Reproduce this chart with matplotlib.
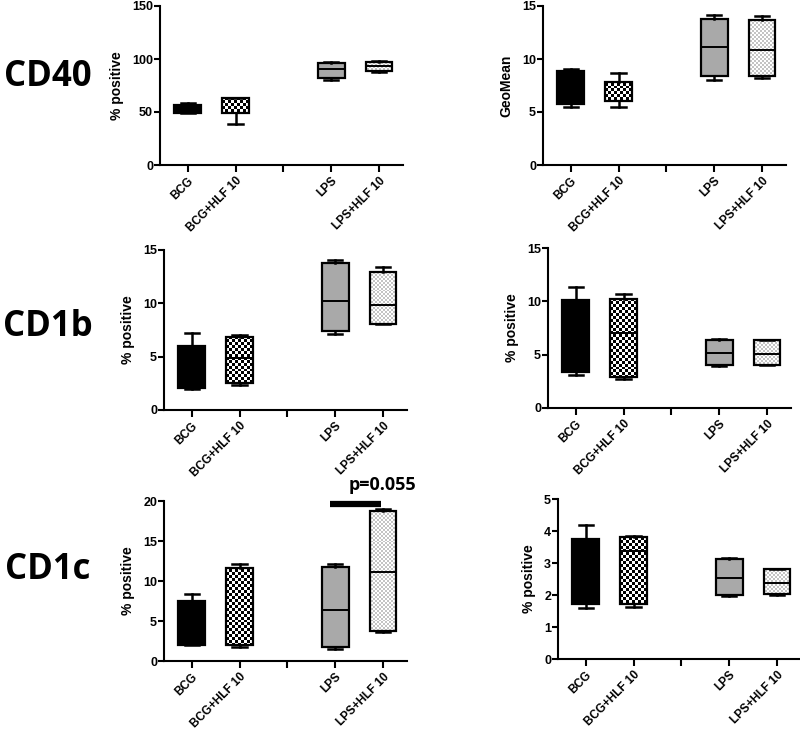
import numpy as np
import matplotlib
matplotlib.use('Agg')
import matplotlib.pyplot as plt
from matplotlib.colors import ListedColormap

plt.rcParams['font.family'] = ['Liberation Sans', 'DejaVu Sans']
plt.rcParams['font.weight'] = 'bold'

groups = ['BCG', 'BCG+HLF 10', '', 'LPS', 'LPS+HLF 10']
positions = [0, 1, 3, 4]

# box stats per group: [whisker low, q1, median, q3, whisker high]
cd40_pct = [[49, 49.5, 53, 57, 58.5],
            [39, 49, 63, 63, 63.5],
            [80, 82, 91, 96, 97],
            [88, 88.5, 93, 97.5, 98]]
cd40_geo = [[5.5, 5.8, 7.3, 8.9, 9.05],
            [5.5, 6.0, 6.0, 7.83, 8.65],
            [8.0, 8.4, 11.1, 13.8, 14.15],
            [8.2, 8.4, 10.85, 13.7, 14.05]]
cd1b_left = [[1.94, 2.03, 3.5, 6.0, 7.25],
             [2.34, 2.56, 4.84, 6.87, 7.06],
             [7.1, 7.37, 10.2, 13.75, 14.1],
             [8.06, 8.1, 9.84, 12.97, 13.4]]
cd1b_right = [[3.14, 3.36, 6.5, 10.1, 11.3],
              [2.76, 2.92, 7.0, 10.26, 10.67],
              [3.98, 4.02, 5.2, 6.34, 6.46],
              [4.0, 4.0, 5.08, 6.37, 6.4]]
cd1c_left = [[1.96, 1.96, 4.0, 7.52, 8.39],
             [1.75, 1.96, 11.57, 11.57, 12.07],
             [1.54, 1.75, 6.35, 11.77, 12.07],
             [3.67, 3.76, 11.15, 18.79, 18.96]]
cd1c_right = [[1.58, 1.715, 2.6, 3.755, 4.19],
              [1.63, 1.715, 3.39, 3.8, 3.83],
              [1.97, 1.99, 2.52, 3.13, 3.15],
              [2.0, 2.03, 2.39, 2.8, 2.81]]

row_labels = ['CD40', 'CD1b', 'CD1c']
p_text = 'p=0.055'
p_bar_y = 19.6

W, H = 800, 730
fig = plt.figure(figsize=(8, 7.3), dpi=100)

# (left px, top px, width px, height px, data, ymax, yticks, ylabel)
panels = [
    (160, 6, 243, 159, cd40_pct, 150, [0, 50, 100, 150], '% positive'),
    (543, 6, 243, 159, cd40_geo, 15, [0, 5, 10, 15], 'GeoMean'),
    (164, 250, 243, 160, cd1b_left, 15, [0, 5, 10, 15], '% positive'),
    (548, 248, 243, 160, cd1b_right, 15, [0, 5, 10, 15], '% positive'),
    (164, 501, 243, 160, cd1c_left, 20, [0, 5, 10, 15, 20], '% positive'),
    (558, 499, 243, 160, cd1c_right, 5, [0, 1, 2, 3, 4, 5], '% positive'),
]


def checker(ax, patch, cell, c1, c2, xlim, ylim):
    bb = ax.get_window_extent()
    nx = int(bb.width / cell) + 1
    ny = int(bb.height / cell) + 1
    arr = (np.add.outer(np.arange(ny), np.arange(nx)) % 2)
    im = ax.imshow(arr, extent=(xlim[0], xlim[1], ylim[0], ylim[1]),
                   origin='lower', cmap=ListedColormap([c1, c2]),
                   interpolation='nearest', aspect='auto', zorder=1.5)
    im.set_clip_path(patch)


for (l, t, w, h, data, ymax, yt, ylab) in panels:
    ax = fig.add_axes([l / W, 1 - (t + h) / H, w / W, h / H])
    xlim = (-0.58, 4.5)
    ylim = (0, ymax)
    stats = []
    for d in data:
        stats.append(dict(whislo=d[0], q1=d[1], med=d[2], q3=d[3], whishi=d[4], fliers=[]))
    bp = ax.bxp(stats, positions=positions, widths=0.56, capwidths=0.3,
                patch_artist=True, showfliers=False,
                boxprops=dict(linewidth=1.6, edgecolor='black'),
                whiskerprops=dict(linewidth=1.8, color='black'),
                capprops=dict(linewidth=1.8, color='black'),
                medianprops=dict(linewidth=1.4, color='black'))
    fills = ['black', 'none', '#a9a9a9', 'none']
    for b, f in zip(bp['boxes'], fills):
        b.set_facecolor(f)
        b.set_zorder(2)
    for ln in bp['medians']:
        ln.set_zorder(2.5)
    checker(ax, bp['boxes'][1], 3, 'black', 'white', xlim, ylim)
    checker(ax, bp['boxes'][3], 2, '#c4c4c4', 'white', xlim, ylim)
    ax.set_xlim(xlim)
    ax.set_ylim(ylim)
    ax.set_xticks(range(5))
    ax.set_xticklabels(groups, rotation=45, ha='right', rotation_mode='anchor',
                       fontsize=8.5, fontweight='bold')
    ax.set_yticks(yt)
    ax.set_yticklabels([str(v) for v in yt], fontsize=9, fontweight='bold')
    ax.set_ylabel(ylab, fontsize=10, fontweight='bold', labelpad=6)
    for s in ['top', 'right']:
        ax.spines[s].set_visible(False)
    for s in ['left', 'bottom']:
        ax.spines[s].set_linewidth(1.5)
    ax.tick_params(axis='x', length=5, width=1.5, pad=2)
    ax.tick_params(axis='y', length=4, width=1.5, pad=1)
    ax.patch.set_alpha(0)
    if data is cd1c_left:
        ax.plot([2.9, 3.95], [p_bar_y, p_bar_y], color='black', lw=4.5,
                solid_capstyle='butt', clip_on=False)
        ax.text(3.98, p_bar_y + 1.3, p_text, fontsize=13, fontweight='bold',
                family=['Open Sans', 'DejaVu Sans'], ha='center', va='bottom')

for lab, y in zip(row_labels, [77, 327, 570]):
    fig.text(48 / W, 1 - y / H, lab, fontsize=25, fontweight='bold',
             family=['Open Sans', 'DejaVu Sans'], ha='center', va='center')

fig.savefig('out.png', dpi=100)
